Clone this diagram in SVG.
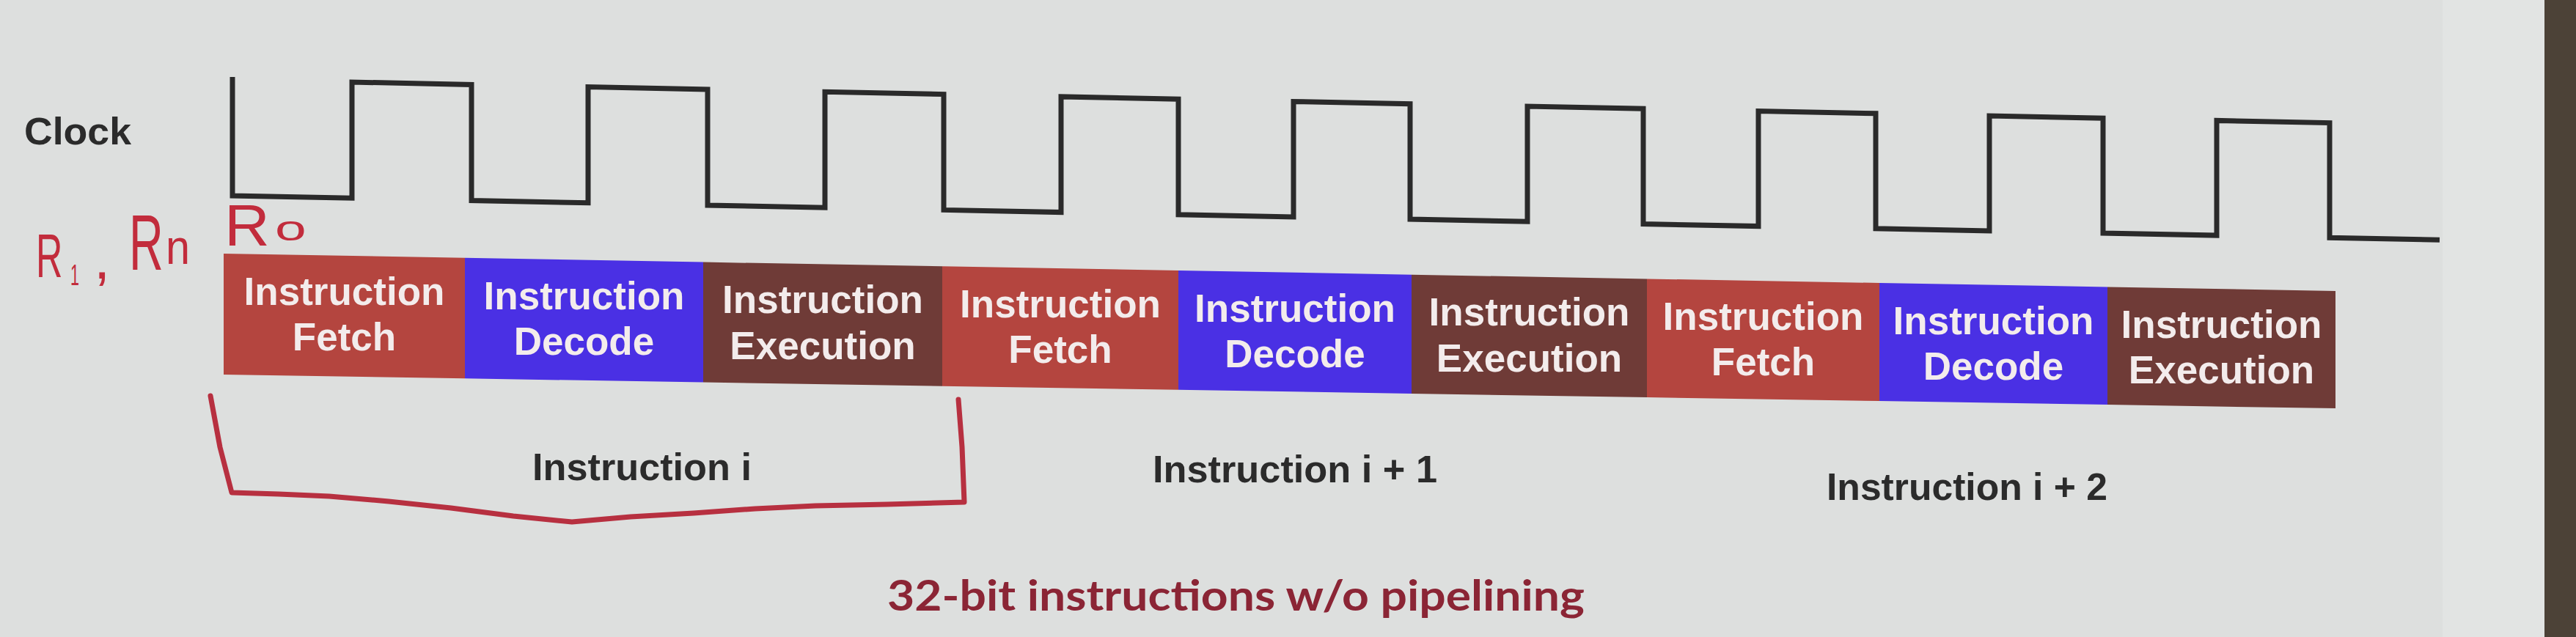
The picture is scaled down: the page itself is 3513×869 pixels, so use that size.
<svg xmlns="http://www.w3.org/2000/svg" width="3513" height="869" viewBox="0 0 3513 869">
<style>
.stage{font-family:"Liberation Sans",Arial,sans-serif;font-weight:bold;font-size:53px;fill:#f3ecec;text-anchor:middle}
.fetch{fill:#b4453f}
.decode{fill:#4a30e4}
.exec{fill:#6f3b37}
.lbl{font-family:"Liberation Sans",Arial,sans-serif;font-weight:bold;font-size:52px;fill:#2b2b2b}
.hw{font-family:"Liberation Sans",Arial,sans-serif;fill:#c22c3c}
.wave{fill:none;stroke:#2a2a2a;stroke-width:7;stroke-linejoin:miter}
.ink{fill:none;stroke:#b73040;stroke-width:7;stroke-linecap:round;stroke-linejoin:round}
</style>
<rect x="0" y="0" width="3513" height="869" fill="#dddfde"/>
<rect x="3331" y="0" width="139" height="869" fill="#e2e4e3"/>
<rect x="3470" y="0" width="43" height="869" fill="#4c4237"/>

<g id="clock-label"><text class="lbl" x="33" y="197" font-size="56" textLength="146" lengthAdjust="spacingAndGlyphs">Clock</text></g>

<g id="clock-wave">
<path class="wave" d="M317,105 V267 L480,270.3 L480,112 L643,115.4 L643,273.5 L802,276.7 L802,118.6 L965,122 L965,280 L1125,283.2 L1125,125.3 L1287,128.6 L1287,286.4 L1447,289.6 L1447,131.9 L1607,135.2 L1607,292.8 L1764,295.9 L1764,138.5 L1923,141.7 L1923,299.1 L2083,302.3 L2083,145 L2241,148.3 L2241,305.5 L2398,308.6 L2398,151.5 L2558,154.8 L2558,311.8 L2713,314.9 L2713,158 L2868,161.2 L2868,318 L3023,321.1 L3023,164.4 L3177,167.6 L3177,324.2 L3327,327.2"/>
</g>

<g id="box-fetch-1"><polygon class="fetch" points="305,346 634,351.8 634,516.3 305,511"/>
<text class="stage" x="469.5" y="416">Instruction</text><text class="stage" x="469.5" y="478">Fetch</text></g>
<g id="box-decode-1"><polygon class="decode" points="634,351.8 959,357.6 959,521.5 634,516.3"/>
<text class="stage" x="796.5" y="422">Instruction</text><text class="stage" x="796.5" y="484">Decode</text></g>
<g id="box-exec-1"><polygon class="exec" points="959,357.6 1285,363.3 1285,526.7 959,521.5"/>
<text class="stage" x="1122" y="427">Instruction</text><text class="stage" x="1122" y="490">Execution</text></g>
<g id="box-fetch-2"><polygon class="fetch" points="1285,363.3 1607,369 1607,531.8 1285,526.7"/>
<text class="stage" x="1446" y="433">Instruction</text><text class="stage" x="1446" y="495">Fetch</text></g>
<g id="box-decode-2"><polygon class="decode" points="1607,369 1925,374.7 1925,536.9 1607,531.8"/>
<text class="stage" x="1766" y="439">Instruction</text><text class="stage" x="1766" y="501">Decode</text></g>
<g id="box-exec-2"><polygon class="exec" points="1925,374.7 2246,380.4 2246,542.1 1925,536.9"/>
<text class="stage" x="2085.5" y="444">Instruction</text><text class="stage" x="2085.5" y="507">Execution</text></g>
<g id="box-fetch-3"><polygon class="fetch" points="2246,380.4 2563,386 2563,547.1 2246,542.1"/>
<text class="stage" x="2404.5" y="450">Instruction</text><text class="stage" x="2404.5" y="512">Fetch</text></g>
<g id="box-decode-3"><polygon class="decode" points="2563,386 2874,391.5 2874,552.1 2563,547.1"/>
<text class="stage" x="2718.5" y="456">Instruction</text><text class="stage" x="2718.5" y="518">Decode</text></g>
<g id="box-exec-3"><polygon class="exec" points="2874,391.5 3185,397 3185,557.1 2874,552.1"/>
<text class="stage" x="3029.5" y="461">Instruction</text><text class="stage" x="3029.5" y="523">Execution</text></g>

<g id="label-i"><text class="lbl" x="726" y="655" textLength="299" lengthAdjust="spacingAndGlyphs">Instruction i</text></g>
<g id="label-i1"><text class="lbl" x="1572" y="658" textLength="388" lengthAdjust="spacingAndGlyphs">Instruction i + 1</text></g>
<g id="label-i2"><text class="lbl" x="2491" y="682" textLength="383" lengthAdjust="spacingAndGlyphs">Instruction i + 2</text></g>

<g id="title"><text x="1210" y="833" font-family="Lato,'Open Sans',sans-serif" font-weight="bold" font-size="58" fill="#8b2535" textLength="951" lengthAdjust="spacingAndGlyphs">32-bit instructions w/o pipelining</text></g>

<g id="annotations">
<text class="hw" font-size="84" transform="translate(49,378) scale(0.6,1)">R</text>
<text class="hw" font-size="40" transform="translate(96,389) scale(0.54,1)">1</text>
<text class="hw" font-size="80" transform="translate(128,380)">,</text>
<text class="hw" font-size="108" transform="translate(176,368) scale(0.6,1)">R</text>
<text class="hw" font-size="66" transform="translate(226,360) scale(0.9,1)">n</text>
<text class="hw" font-size="80" transform="translate(306,335) scale(1.07,1)">R</text>
<text class="hw" font-size="48" transform="translate(375,328) scale(1.6,1)">o</text>
</g>

<g id="connectors">
<path class="ink" d="M287,540 L300,610 L316,672 L380,674 L449,677 L530,684 L615,693 L700,704 L780,712 L860,705 L946,700 L1030,694 L1112,690 L1210,688 L1315,685 L1312,610 L1307,545"/>
</g>
</svg>
